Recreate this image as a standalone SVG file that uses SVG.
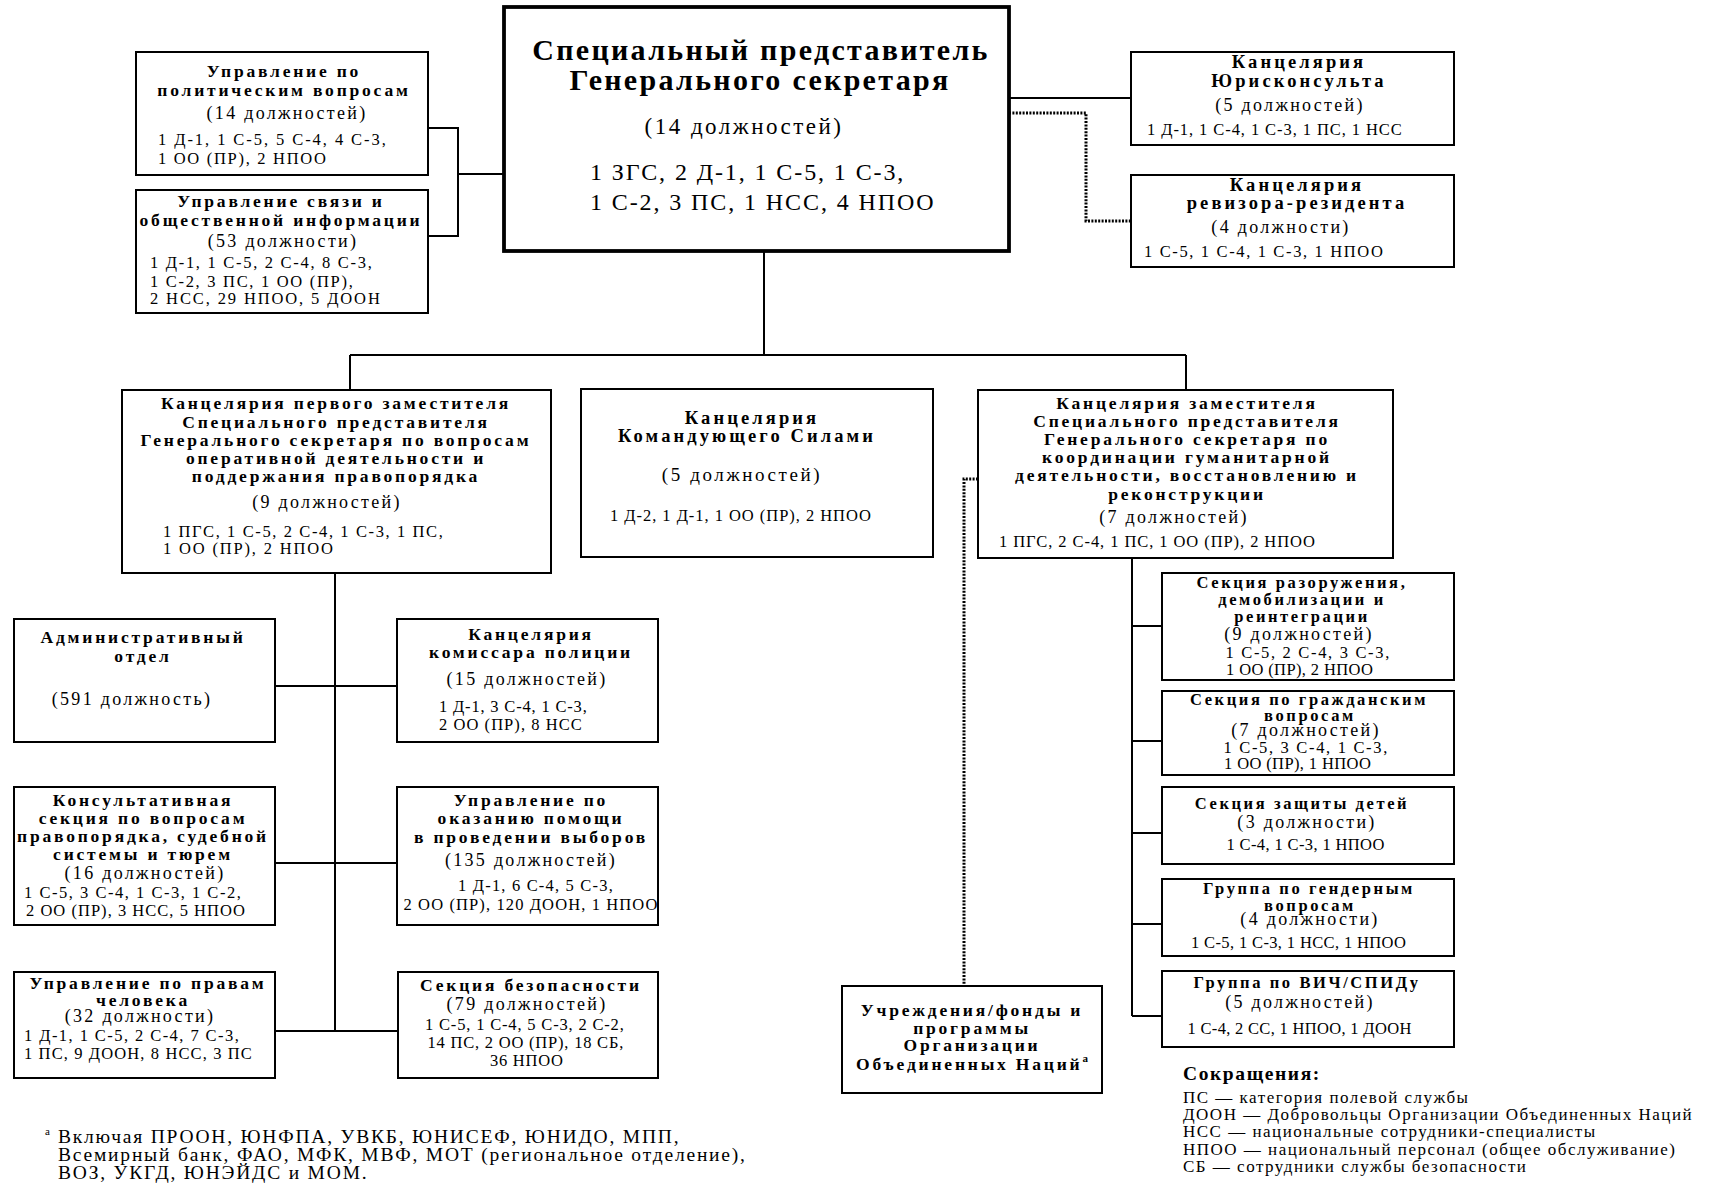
<svg xmlns="http://www.w3.org/2000/svg" width="1709" height="1191" viewBox="0 0 1709 1191">
<style>
text{font-family:"Liberation Serif","Times New Roman",serif;fill:#000}
.box{fill:#fff;stroke:#000;stroke-width:2}
.mainbox{fill:#fff;stroke:#000;stroke-width:3.8}
.ln{fill:none;stroke:#000;stroke-width:2}
.dot{fill:none;stroke:#000;stroke-width:3;stroke-dasharray:2 1.4}
.h{font-weight:bold;font-size:17.5px;letter-spacing:2.8px}
.hs{font-weight:bold;font-size:16.5px;letter-spacing:2.6px}
.hl{font-weight:bold;font-size:18.5px;letter-spacing:3.1px}
.c{font-size:18px;letter-spacing:2.3px}
.cl{font-size:19px;letter-spacing:2.6px}
.d{font-size:16.5px;letter-spacing:1.2px}
.m{text-anchor:middle}
.t0{font-weight:bold;font-size:30px;letter-spacing:2.3px}
.c0{font-size:23px;letter-spacing:2.5px}
.d0{font-size:24px;letter-spacing:1.9px}
.ab{font-size:17px;letter-spacing:1.5px}
.abh{font-weight:bold;font-size:19.5px;letter-spacing:1.6px}
.fn{font-size:19.5px;letter-spacing:1.8px}
.sup{font-size:11px;letter-spacing:0}
</style>
<rect x="0" y="0" width="1709" height="1191" fill="#fff"/>
<g id="connectors">
<path class="ln" d="M428,128 H458 V236 H428 M458,174 H504"/>
<path class="ln" d="M1009,98 H1131"/>
<path class="dot" d="M1009,113 H1086 V221 H1131"/>
<path class="ln" d="M764,251 V355 M350,355 H1186 M350,355 V390 M1186,355 V390"/>
<path class="ln" d="M335,573 V1031 M274,686 H397 M274,863 H397 M274,1031 H398"/>
<path class="ln" d="M1132,558 V1016 M1132,626 H1162 M1132,741 H1162 M1132,833 H1162 M1132,924 H1162 M1132,1016 H1162"/>
<path class="dot" d="M978,479 H964 V986"/>
</g>
<g id="srsg">
<rect class="mainbox" x="504" y="7" width="505" height="244"/>
<text class="t0 m" x="761" y="60">Специальный представитель</text>
<text class="t0 m" x="760" y="90">Генерального секретаря</text>
<text class="c0 m" x="744" y="134">(14 должностей)</text>
<text class="d0" x="590" y="180">1 ЗГС, 2 Д-1, 1 С-5, 1 С-3,</text>
<text class="d0" x="590" y="210">1 С-2, 3 ПС, 1 НСС, 4 НПОО</text>
</g>
<g id="political">
<rect class="box" x="136" y="52" width="292" height="123"/>
<text class="h m" x="284" y="77">Управление по</text>
<text class="h m" x="284" y="96">политическим вопросам</text>
<text class="c m" x="287" y="119">(14 должностей)</text>
<text class="d" x="158" y="145" textLength="229" lengthAdjust="spacing">1 Д-1, 1 С-5, 5 С-4, 4 С-3,</text>
<text class="d" x="158" y="164" textLength="169" lengthAdjust="spacing">1 ОО (ПР), 2 НПОО</text>
</g>
<g id="comms">
<rect class="box" x="136" y="190" width="292" height="123"/>
<text class="h m" x="281" y="207">Управление связи и</text>
<text class="h m" x="281" y="226">общественной информации</text>
<text class="c m" x="283" y="247">(53 должности)</text>
<text class="d" x="150" y="268" textLength="223" lengthAdjust="spacing">1 Д-1, 1 С-5, 2 С-4, 8 С-3,</text>
<text class="d" x="150" y="287" textLength="204" lengthAdjust="spacing">1 С-2, 3 ПС, 1 ОО (ПР),</text>
<text class="d" x="150" y="304" textLength="231" lengthAdjust="spacing">2 НСС, 29 НПОО, 5 ДООН</text>
</g>
<g id="legal">
<rect class="box" x="1131" y="52" width="323" height="93"/>
<text class="hl m" x="1299" y="68">Канцелярия</text>
<text class="hl m" x="1299" y="87">Юрисконсульта</text>
<text class="c m" x="1290" y="111">(5 должностей)</text>
<text class="d" x="1147" y="135" textLength="256" lengthAdjust="spacing">1 Д-1, 1 С-4, 1 С-3, 1 ПС, 1 НСС</text>
</g>
<g id="auditor">
<rect class="box" x="1131" y="175" width="323" height="92"/>
<text class="hl m" x="1297" y="191">Канцелярия</text>
<text class="hl m" x="1297" y="209">ревизора-резидента</text>
<text class="c m" x="1281" y="233">(4 должности)</text>
<text class="d" x="1144" y="257" textLength="240" lengthAdjust="spacing">1 С-5, 1 С-4, 1 С-3, 1 НПОО</text>
</g>
<g id="deputy1">
<rect class="box" x="122" y="390" width="429" height="183"/>
<text class="h m" x="336" y="409">Канцелярия первого заместителя</text>
<text class="h m" x="336" y="427.5">Специального представителя</text>
<text class="h m" x="336" y="446">Генерального секретаря по вопросам</text>
<text class="h m" x="336" y="464">оперативной деятельности и</text>
<text class="h m" x="336" y="482">поддержания правопорядка</text>
<text class="c m" x="327" y="508">(9 должностей)</text>
<text class="d" x="163" y="537" textLength="281" lengthAdjust="spacing">1 ПГС, 1 С-5, 2 С-4, 1 С-3, 1 ПС,</text>
<text class="d" x="163" y="554" textLength="171" lengthAdjust="spacing">1 ОО (ПР), 2 НПОО</text>
</g>
<g id="force">
<rect class="box" x="581" y="389" width="352" height="168"/>
<text class="hl m" x="752" y="424">Канцелярия</text>
<text class="hl m" x="747" y="442">Командующего Силами</text>
<text class="cl m" x="742" y="481">(5 должностей)</text>
<text class="d" x="610" y="521" textLength="262" lengthAdjust="spacing">1 Д-2, 1 Д-1, 1 ОО (ПР), 2 НПОО</text>
</g>
<g id="deputy2">
<rect class="box" x="978" y="390" width="415" height="168"/>
<text class="h m" x="1187" y="409">Канцелярия заместителя</text>
<text class="h m" x="1187" y="427">Специального представителя</text>
<text class="h m" x="1187" y="445">Генерального секретаря по</text>
<text class="h m" x="1187" y="463">координации гуманитарной</text>
<text class="h m" x="1187" y="481">деятельности, восстановлению и</text>
<text class="h m" x="1187" y="500">реконструкции</text>
<text class="c m" x="1174" y="523">(7 должностей)</text>
<text class="d" x="999" y="547" textLength="317" lengthAdjust="spacing">1 ПГС, 2 С-4, 1 ПС, 1 ОО (ПР), 2 НПОО</text>
</g>
<g id="admin">
<rect class="box" x="14" y="619" width="261" height="123"/>
<text class="h m" x="143" y="643">Административный</text>
<text class="h m" x="143" y="662">отдел</text>
<text class="c m" x="132" y="705">(591 должность)</text>
</g>
<g id="police">
<rect class="box" x="397" y="619" width="261" height="123"/>
<text class="h m" x="531" y="640">Канцелярия</text>
<text class="h m" x="531" y="658">комиссара полиции</text>
<text class="c m" x="527" y="685">(15 должностей)</text>
<text class="d" x="439" y="712" textLength="149" lengthAdjust="spacing">1 Д-1, 3 С-4, 1 С-3,</text>
<text class="d" x="439" y="730" textLength="144" lengthAdjust="spacing">2 ОО (ПР), 8 НСС</text>
</g>
<g id="rule-of-law">
<rect class="box" x="14" y="787" width="261" height="138"/>
<text class="h m" x="143" y="806">Консультативная</text>
<text class="h m" x="143" y="824">секция по вопросам</text>
<text class="h m" x="143" y="842">правопорядка, судебной</text>
<text class="h m" x="143" y="860">системы и тюрем</text>
<text class="c m" x="145" y="879">(16 должностей)</text>
<text class="d" x="24" y="898" textLength="218" lengthAdjust="spacing">1 С-5, 3 С-4, 1 С-3, 1 С-2,</text>
<text class="d" x="26" y="916" textLength="220" lengthAdjust="spacing">2 ОО (ПР), 3 НСС, 5 НПОО</text>
</g>
<g id="electoral">
<rect class="box" x="397" y="787" width="261" height="138"/>
<text class="h m" x="531" y="806">Управление по</text>
<text class="h m" x="531" y="824">оказанию помощи</text>
<text class="h m" x="531" y="843">в проведении выборов</text>
<text class="c m" x="531" y="866">(135 должностей)</text>
<text class="d m" x="536" y="891" textLength="156" lengthAdjust="spacing">1 Д-1, 6 С-4, 5 С-3,</text>
<text class="d m" x="531" y="910" textLength="255" lengthAdjust="spacing">2 ОО (ПР), 120 ДООН, 1 НПОО</text>
</g>
<g id="human-rights">
<rect class="box" x="14" y="972" width="261" height="106"/>
<text class="h m" x="148" y="989">Управление по правам</text>
<text class="h m" x="143" y="1006">человека</text>
<text class="c m" x="140" y="1022">(32 должности)</text>
<text class="d" x="24" y="1041" textLength="216" lengthAdjust="spacing">1 Д-1, 1 С-5, 2 С-4, 7 С-3,</text>
<text class="d" x="24" y="1059" textLength="229" lengthAdjust="spacing">1 ПС, 9 ДООН, 8 НСС, 3 ПС</text>
</g>
<g id="security">
<rect class="box" x="398" y="972" width="260" height="106"/>
<text class="h m" x="531" y="991">Секция безопасности</text>
<text class="c m" x="527" y="1010">(79 должностей)</text>
<text class="d m" x="525" y="1030" textLength="200" lengthAdjust="spacing">1 С-5, 1 С-4, 5 С-3, 2 С-2,</text>
<text class="d m" x="526" y="1048" textLength="197" lengthAdjust="spacing">14 ПС, 2 ОО (ПР), 18 СБ,</text>
<text class="d m" x="527" y="1066" textLength="74" lengthAdjust="spacing">36 НПОО</text>
</g>
<g id="ddr">
<rect class="box" x="1162" y="573" width="292" height="107"/>
<text class="hs m" x="1302" y="588">Секция разоружения,</text>
<text class="hs m" x="1302" y="605">демобилизации и</text>
<text class="hs m" x="1302" y="622">реинтеграции</text>
<text class="c m" x="1299" y="640">(9 должностей)</text>
<text class="d m" x="1308" y="658" textLength="165" lengthAdjust="spacing">1 С-5, 2 С-4, 3 С-3,</text>
<text class="d m" x="1300" y="675" textLength="148" lengthAdjust="spacing">1 ОО (ПР), 2 НПОО</text>
</g>
<g id="civil">
<rect class="box" x="1162" y="691" width="292" height="84"/>
<text class="hs m" x="1309" y="705">Секция по гражданским</text>
<text class="hs m" x="1310" y="721">вопросам</text>
<text class="c m" x="1306" y="736">(7 должностей)</text>
<text class="d m" x="1306" y="753" textLength="165" lengthAdjust="spacing">1 С-5, 3 С-4, 1 С-3,</text>
<text class="d m" x="1298" y="769" textLength="148" lengthAdjust="spacing">1 ОО (ПР), 1 НПОО</text>
</g>
<g id="child">
<rect class="box" x="1162" y="787" width="292" height="77"/>
<text class="hs m" x="1302" y="809">Секция защиты детей</text>
<text class="c m" x="1307" y="828">(3 должности)</text>
<text class="d m" x="1306" y="850" textLength="159" lengthAdjust="spacing">1 С-4, 1 С-3, 1 НПОО</text>
</g>
<g id="gender">
<rect class="box" x="1162" y="879" width="292" height="77"/>
<text class="hs m" x="1309" y="894">Группа по гендерным</text>
<text class="hs m" x="1310" y="911">вопросам</text>
<text class="c m" x="1310" y="925">(4 должности)</text>
<text class="d m" x="1299" y="948" textLength="216" lengthAdjust="spacing">1 С-5, 1 С-3, 1 НСС, 1 НПОО</text>
</g>
<g id="hiv">
<rect class="box" x="1162" y="971" width="292" height="76"/>
<text class="hs m" x="1307" y="988">Группа по ВИЧ/СПИДу</text>
<text class="c m" x="1300" y="1008">(5 должностей)</text>
<text class="d m" x="1300" y="1034" textLength="225" lengthAdjust="spacing">1 С-4, 2 СС, 1 НПОО, 1 ДООН</text>
</g>
<g id="un-agencies">
<rect class="box" x="842" y="986" width="260" height="107"/>
<text class="h m" x="972" y="1016">Учреждения/фонды и</text>
<text class="h m" x="972" y="1034">программы</text>
<text class="h m" x="972" y="1051">Организации</text>
<text class="h m" x="972" y="1070">Объединенных Наций<tspan class="sup" dy="-8">a</tspan></text>
</g>
<g id="abbreviations">
<text class="abh" x="1183" y="1080">Сокращения:</text>
<text class="ab" x="1183" y="1103">ПС — категория полевой службы</text>
<text class="ab" x="1183" y="1120">ДООН — Добровольцы Организации Объединенных Наций</text>
<text class="ab" x="1183" y="1137">НСС — национальные сотрудники-специалисты</text>
<text class="ab" x="1183" y="1155">НПОО — национальный персонал (общее обслуживание)</text>
<text class="ab" x="1183" y="1172">СБ — сотрудники службы безопасности</text>
</g>
<g id="footnote">
<text class="sup" x="45" y="1135">a</text>
<text class="fn" x="58" y="1143">Включая ПРООН, ЮНФПА, УВКБ, ЮНИСЕФ, ЮНИДО, МПП,</text>
<text class="fn" x="58" y="1161">Всемирный банк, ФАО, МФК, МВФ, МОТ (региональное отделение),</text>
<text class="fn" x="58" y="1179">ВОЗ, УКГД, ЮНЭЙДС и МОМ.</text>
</g>
</svg>
